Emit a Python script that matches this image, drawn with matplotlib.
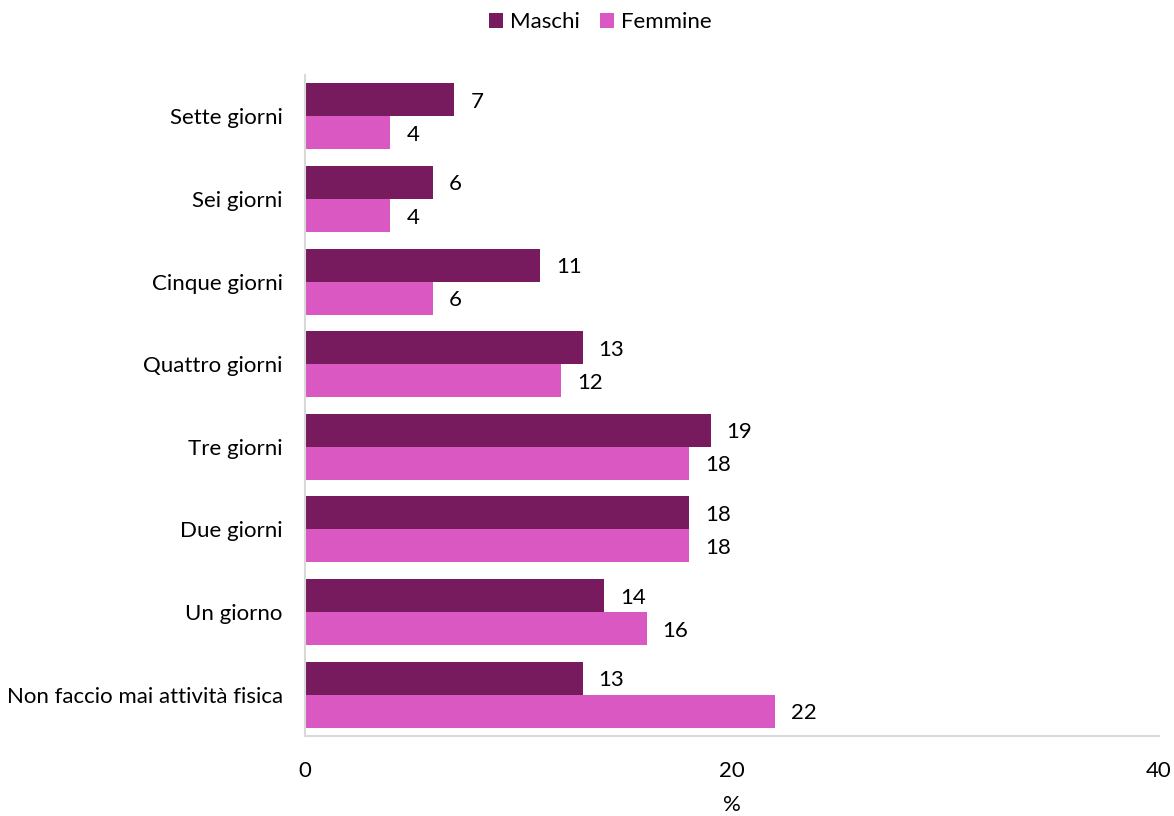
import matplotlib
matplotlib.use("Agg")
import matplotlib.pyplot as plt
import numpy as np

categories = ["Sette giorni", "Sei giorni", "Cinque giorni", "Quattro giorni",
              "Tre giorni", "Due giorni", "Un giorno", "Non faccio mai attività fisica"]
maschi = [7, 6, 11, 13, 19, 18, 14, 13]
femmine = [4, 4, 6, 12, 18, 18, 16, 22]
xticks = [0, 20, 40]

c_m = "#781A5E"
c_f = "#DA58C2"

plt.rcParams['font.family'] = ['Lato', 'DejaVu Sans']
FS = 16

fig = plt.figure(figsize=(11.74, 8.16), dpi=100)
ax = fig.add_axes([305/1174, 80/816, 854/1174, 661/816])

y = np.arange(len(categories))
h = 0.4
bm = ax.barh(y - h/2, maschi, height=h, color=c_m, label="Maschi")
bf = ax.barh(y + h/2, femmine, height=h, color=c_f, label="Femmine")

for bars, vals in ((bm, maschi), (bf, femmine)):
    for b, v in zip(bars, vals):
        ax.annotate(str(v), (b.get_width(), b.get_y() + b.get_height()/2),
                    xytext=(11.5, -1.5), textcoords="offset points",
                    ha="left", va="center", fontsize=FS, color="#000000")

ax.set_ylim(len(categories) - 0.5, -0.5)
ax.set_xlim(0, 40)
ax.set_yticks(y)
ax.set_yticklabels(categories, fontsize=FS)
ax.set_xticks(xticks)
ax.set_xticklabels([str(t) for t in xticks], fontsize=FS)
ax.tick_params(axis='both', length=0)
ax.tick_params(axis='y', pad=16)
ax.tick_params(axis='x', pad=18)
ax.set_xlabel("%", fontsize=FS, labelpad=10)

for s in ("top", "right"):
    ax.spines[s].set_visible(False)
for s in ("left", "bottom"):
    ax.spines[s].set_color("#D9D9D9")
    ax.spines[s].set_linewidth(1.5)

fig.legend(handles=[bm, bf], labels=["Maschi", "Femmine"], loc="center",
           bbox_to_anchor=(600/1174, 1 - 22/816), ncol=2, frameon=False,
           fontsize=FS, handlelength=0.65, handleheight=0.65, handletextpad=0.3,
           columnspacing=0.9)

fig.savefig("out.png", dpi=100)
